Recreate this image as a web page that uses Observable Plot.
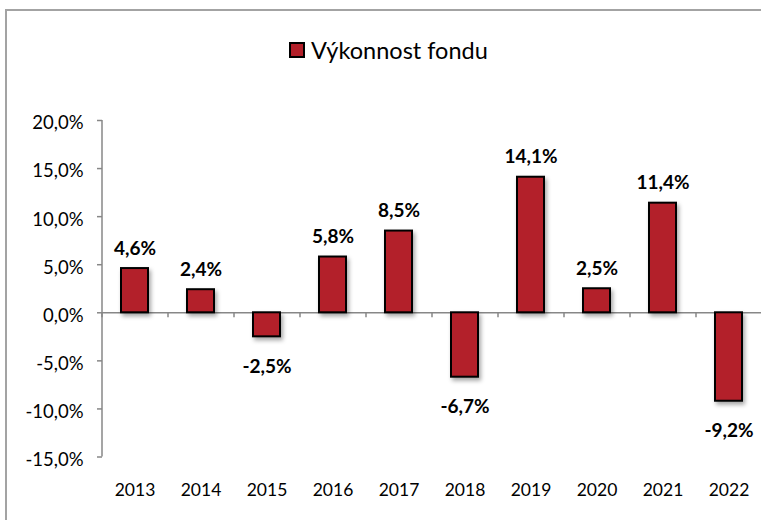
<!DOCTYPE html>
<html><head><meta charset="utf-8">
<script src="https://cdn.jsdelivr.net/npm/d3@7"></script>
<script src="https://cdn.jsdelivr.net/npm/@observablehq/plot@0.6"></script>
<style>
html,body{margin:0;padding:0;background:#fff;overflow:hidden;}
#wrap{position:relative;width:761px;height:520px;overflow:hidden;font-family:Lato,sans-serif;}
#border{position:absolute;left:5px;top:9px;width:820px;height:620px;border-left:2px solid #a3a3a3;border-top:2px solid #a3a3a3;box-sizing:border-box;}
#legend{position:absolute;left:289px;top:35px;height:30px;display:flex;align-items:center;font-size:23.5px;color:#000;white-space:nowrap;}
#legend .sw{width:12px;height:12px;background:#b3202a;border:2px solid #000;margin-right:6px;}
#chart{position:absolute;left:0;top:0;}
#chart g[aria-label="bar"] rect{filter:drop-shadow(2px 3px 2px rgba(0,0,0,0.35));}
</style>
</head><body>
<div id="wrap"><div id="border"></div><div id="legend"><div class="sw"></div><span id="legendText"></span></div><div id="chart"></div></div>
<script>
const years = ["2013","2014","2015","2016","2017","2018","2019","2020","2021","2022"];
const values = [4.6, 2.4, -2.5, 5.8, 8.5, -6.7, 14.1, 2.5, 11.4, -9.2];
const yTicks = [-15, -10, -5, 0, 5, 10, 15, 20];
const seriesName = "Výkonnost fondu";

document.getElementById("legendText").textContent = seriesName;
const data = years.map((year, i) => ({year, value: values[i]}));
const fmt = v => v.toFixed(1).replace(".", ",") + "%";
const xRange = [102, 762];
const bandW = (xRange[1] - xRange[0]) / years.length;
const axisGray = "#878787";

const chart = Plot.plot({
  width: 761, height: 520,
  marginTop: 120, marginBottom: 63.5, marginLeft: 102, marginRight: 0,
  style: {fontFamily: "Lato, sans-serif", fontSize: "17.5px", color: "#000", background: "transparent", overflow: "visible"},
  x: {domain: years, range: xRange, paddingInner: 0.59, paddingOuter: 0.295, align: 0.5, label: null},
  y: {domain: [-15, 20], label: null},
  marks: [
    Plot.axisY(yTicks, {tickFormat: () => "", tickSize: 5, stroke: axisGray, strokeWidth: 1.5, strokeOpacity: 1, label: null}),
    Plot.axisY(yTicks, {tickFormat: fmt, tickSize: 0, tickPadding: 19, dy: 3, fill: "#000", fontSize: 18.5, label: null}),
    Plot.axisX({tickSize: 0, tickPadding: 27, fill: "#000", label: null}),
    Plot.ruleX([years[0]], {x: d => d, dx: -bandW / 2, y1: yTicks[0], y2: yTicks[yTicks.length - 1], stroke: axisGray, strokeWidth: 1.5}),
    Plot.ruleY([0], {stroke: axisGray, strokeWidth: 1.5}),
    Plot.ruleX(years, {x: d => d, y1: 0, y2: 0, dx: -bandW / 2, insetBottom: -5, stroke: axisGray, strokeWidth: 1.5}),
    Plot.barY(data, {x: "year", y: "value", fill: "#b3202a", stroke: "#000", strokeWidth: 2}),
    Plot.text(data.filter(d => d.value >= 0), {x: "year", y: "value", text: d => fmt(d.value), dy: -20, fontWeight: "bold", fontSize: 19}),
    Plot.text(data.filter(d => d.value < 0), {x: "year", y: "value", text: d => fmt(d.value), dy: 30, fontWeight: "bold", fontSize: 19})
  ]
});
document.getElementById("chart").appendChild(chart);
</script>
</body></html>
